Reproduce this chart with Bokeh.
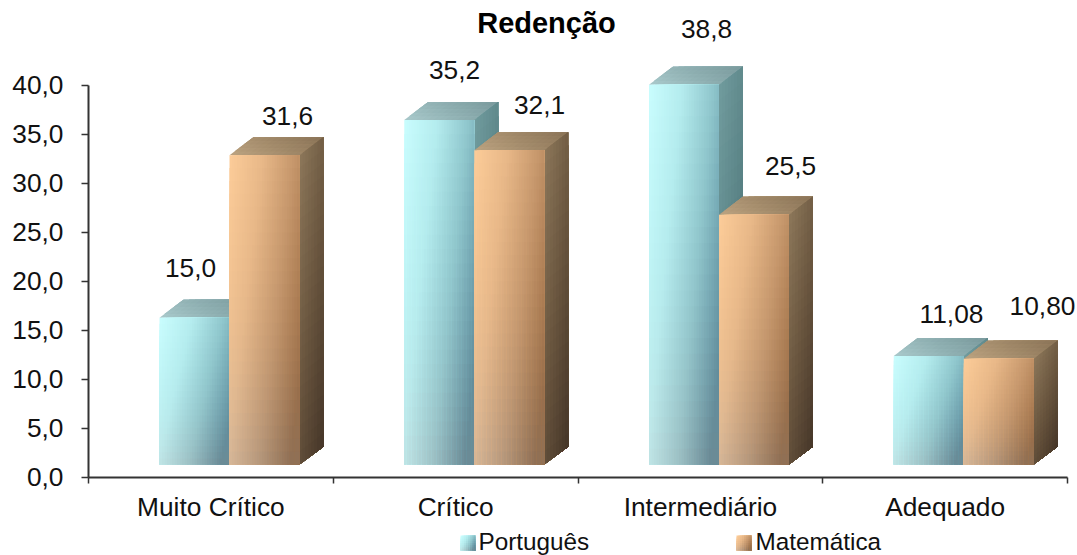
from bokeh.plotting import figure
from bokeh.models import Range1d, FixedTicker
from bokeh.core.properties import value
from bokeh.embed import file_html
from bokeh.resources import INLINE

title_text = "Redenção"
categories = ["Muito Crítico", "Crítico", "Intermediário", "Adequado"]
portugues = [15.0, 35.2, 38.8, 11.08]
matematica = [31.6, 32.1, 25.5, 10.80]
portugues_labels = ["15,0", "35,2", "38,8", "11,08"]
matematica_labels = ["31,6", "32,1", "25,5", "10,80"]
y_ticks = [0, 5, 10, 15, 20, 25, 30, 35, 40]
y_tick_labels = ["0,0", "5,0", "10,0", "15,0", "20,0", "25,0", "30,0", "35,0", "40,0"]
legend_names = ["Português", "Matemática"]

W, H = 1077, 555
X0, Y0 = 88.0, 476.5      # pixel position of the axis origin
PX_CAT = 244.75           # pixels per category
PX_UNIT = 9.79            # pixels per value unit
FONT = value("Liberation Sans")

def dx(px): return (px - X0) / PX_CAT
def dy(px): return (Y0 - px) / PX_UNIT

BAR_W = 70 / PX_CAT
DEPTH_X = 24 / PX_CAT
DEPTH_Y = 18 / PX_UNIT
BASE = (476.5 - 464) / PX_UNIT
GROUP_OFF = 71 / PX_CAT

def hexrgb(h): return tuple(int(h[i:i+2], 16) for i in (1, 3, 5))
def ramp(stops, t, grey=0.0):
    t = max(0.0, min(1.0, t)) * (len(stops) - 1)
    i = min(int(t), len(stops) - 2)
    f = t - i
    a, b = hexrgb(stops[i]), hexrgb(stops[i + 1])
    c = [a[k] + (b[k] - a[k]) * f for k in range(3)]
    g = sum(c) / 3
    return "#%02x%02x%02x" % tuple(round(x + (g - x) * grey) for x in c)

PALETTE = {
    "p": dict(front=["#c8fcfd", "#b4ecee", "#8fc6cc", "#5d8fa0"],
              side=["#6f9a9c", "#5b8487", "#3f6468"],
              top=["#a6c6c8", "#8fb0b2", "#7c9c9f"]),
    "m": dict(front=["#fbcb98", "#e8b888", "#c6976c", "#a06f45"],
              side=["#8a7558", "#6a563f", "#48382a"],
              top=["#b9a07e", "#a28a6a", "#8d7659"]),
}

p = figure(width=W, height=H, output_backend="svg", toolbar_location=None,
           x_range=Range1d(dx(0), dx(W)), y_range=Range1d(dy(H), dy(0)),
           min_border=0, min_border_left=0, min_border_right=0,
           min_border_top=0, min_border_bottom=0,
           background_fill_color="white", border_fill_color="white")
p.outline_line_color = None
p.grid.visible = False

def draw_front(x0s, x1s, y0s, y1s, stops, cols=28, rows=24):
    L, R, B, T, C = [], [], [], [], []
    for a, b, lo, hi in zip(x0s, x1s, y0s, y1s):
        for i in range(cols):
            for j in range(rows):
                u, v = i / (cols - 1), j / (rows - 1)
                L.append(a + (b - a) * i / cols)
                R.append(b)
                T.append(hi - (hi - lo) * j / rows)
                B.append(lo)
                C.append(ramp(stops, 0.72 * u + 0.36 * v, 0.35 * v ** 3))
    p.quad(left=L, right=R, bottom=B, top=T, fill_color=C, line_color=None)

def draw_side(x1s, y0s, y1s, stops, cols=8, rows=24):
    XS, YS, C = [], [], []
    for x, lo, hi in zip(x1s, y0s, y1s):
        for i in range(cols):
            for j in range(rows):
                u0 = i / cols
                top = hi - (hi - lo) * j / rows
                xa = x + DEPTH_X * u0
                xb = x + DEPTH_X
                XS.append([xa, xb, xb, xa])
                YS.append([top + DEPTH_Y * u0, top + DEPTH_Y, lo + DEPTH_Y, lo + DEPTH_Y * u0])
                C.append(ramp(stops, 0.35 * i / (cols - 1) + 0.65 * j / (rows - 1)))
    p.patches(XS, YS, fill_color=C, line_color=None)

def draw_top(x0s, x1s, y1s, stops, cols=12, rows=5):
    XS, YS, C = [], [], []
    for a, b, hi in zip(x0s, x1s, y1s):
        w = b - a
        for j in range(rows):
            v0 = j / rows
            for i in range(cols):
                s = a + w * i / cols
                XS.append([s + DEPTH_X * v0, b + DEPTH_X * v0, b + DEPTH_X, s + DEPTH_X])
                YS.append([hi + DEPTH_Y * v0, hi + DEPTH_Y * v0, hi + DEPTH_Y, hi + DEPTH_Y])
                C.append(ramp(stops, 0.6 * i / (cols - 1) + 0.4 * j / (rows - 1)))
    p.patches(XS, YS, fill_color=C, line_color=None)

for key, vals, shift in (("p", portugues, 0.0), ("m", matematica, BAR_W)):
    x0s = [k + GROUP_OFF + shift for k in range(len(categories))]
    x1s = [x + BAR_W for x in x0s]
    lo = [BASE] * len(vals)
    hi = [v + BASE for v in vals]
    pal = PALETTE[key]
    draw_top(x0s, x1s, hi, pal["top"])
    draw_side(x1s, lo, hi, pal["side"])
    draw_front(x0s, x1s, lo, hi, pal["front"])

# value labels, placed by hand as in the original chart (pixel centres)
label_px = {"p": [(190, 267), (454, 69), (706, 28), (951, 313)],
            "m": [(287, 115), (539, 104), (790, 165), (1042, 305)]}
all_labels = portugues_labels + matematica_labels
all_pos = label_px["p"] + label_px["m"]
p.text([dx(a) for a, _ in all_pos], [dy(b) for _, b in all_pos], text=all_labels,
       text_font=FONT, text_font_size="26.3px", text_color="#111111",
       text_align="center", text_baseline="middle")

p.text([dx(546)], [dy(22)], text=[title_text], text_font=FONT, text_font_size="29px",
       text_font_style="bold", text_color="#000000", text_align="center",
       text_baseline="alphabetic")

# legend
for key, name, sq, tx in (("p", legend_names[0], 460, 478), ("m", legend_names[1], 736, 755)):
    draw_front([dx(sq)], [dx(sq + 15)], [dy(550)], [dy(535)], PALETTE[key]["front"], cols=8, rows=8)
    p.text([dx(tx)], [dy(541)], text=[name], text_font=FONT, text_font_size="24.3px",
           text_color="#111111", text_align="left", text_baseline="middle")

# axes
xa = p.xaxis[0]
xa.fixed_location = 0
xa.bounds = (0, len(categories))
xa.ticker = FixedTicker(ticks=[k + 0.5 for k in range(len(categories))],
                        minor_ticks=list(range(len(categories) + 1)))
xa.major_label_overrides = {k + 0.5: c for k, c in enumerate(categories)}
xa.major_tick_in = 0
xa.major_tick_out = 0
xa.minor_tick_in = 0
xa.minor_tick_out = 6
xa.minor_tick_line_color = "#333333"
xa.minor_tick_line_width = 1.5
xa.axis_line_color = "#333333"
xa.axis_line_width = 2
xa.major_label_text_font = "Liberation Sans"
xa.major_label_text_font_size = "26.3px"
xa.major_label_text_color = "#111111"
xa.major_label_standoff = 9

ya = p.yaxis[0]
ya.fixed_location = 0
ya.bounds = (0, 40)
ya.ticker = FixedTicker(ticks=y_ticks, minor_ticks=[])
ya.major_label_overrides = dict(zip(y_ticks, y_tick_labels))
ya.major_tick_in = 0
ya.major_tick_out = 7
ya.major_tick_line_color = "#333333"
ya.major_tick_line_width = 1.5
ya.axis_line_color = "#333333"
ya.axis_line_width = 2
ya.major_label_text_font = "Liberation Sans"
ya.major_label_text_font_size = "26.3px"
ya.major_label_text_color = "#111111"
ya.major_label_standoff = 18

open("out.html", "w").write(file_html(p, INLINE))
